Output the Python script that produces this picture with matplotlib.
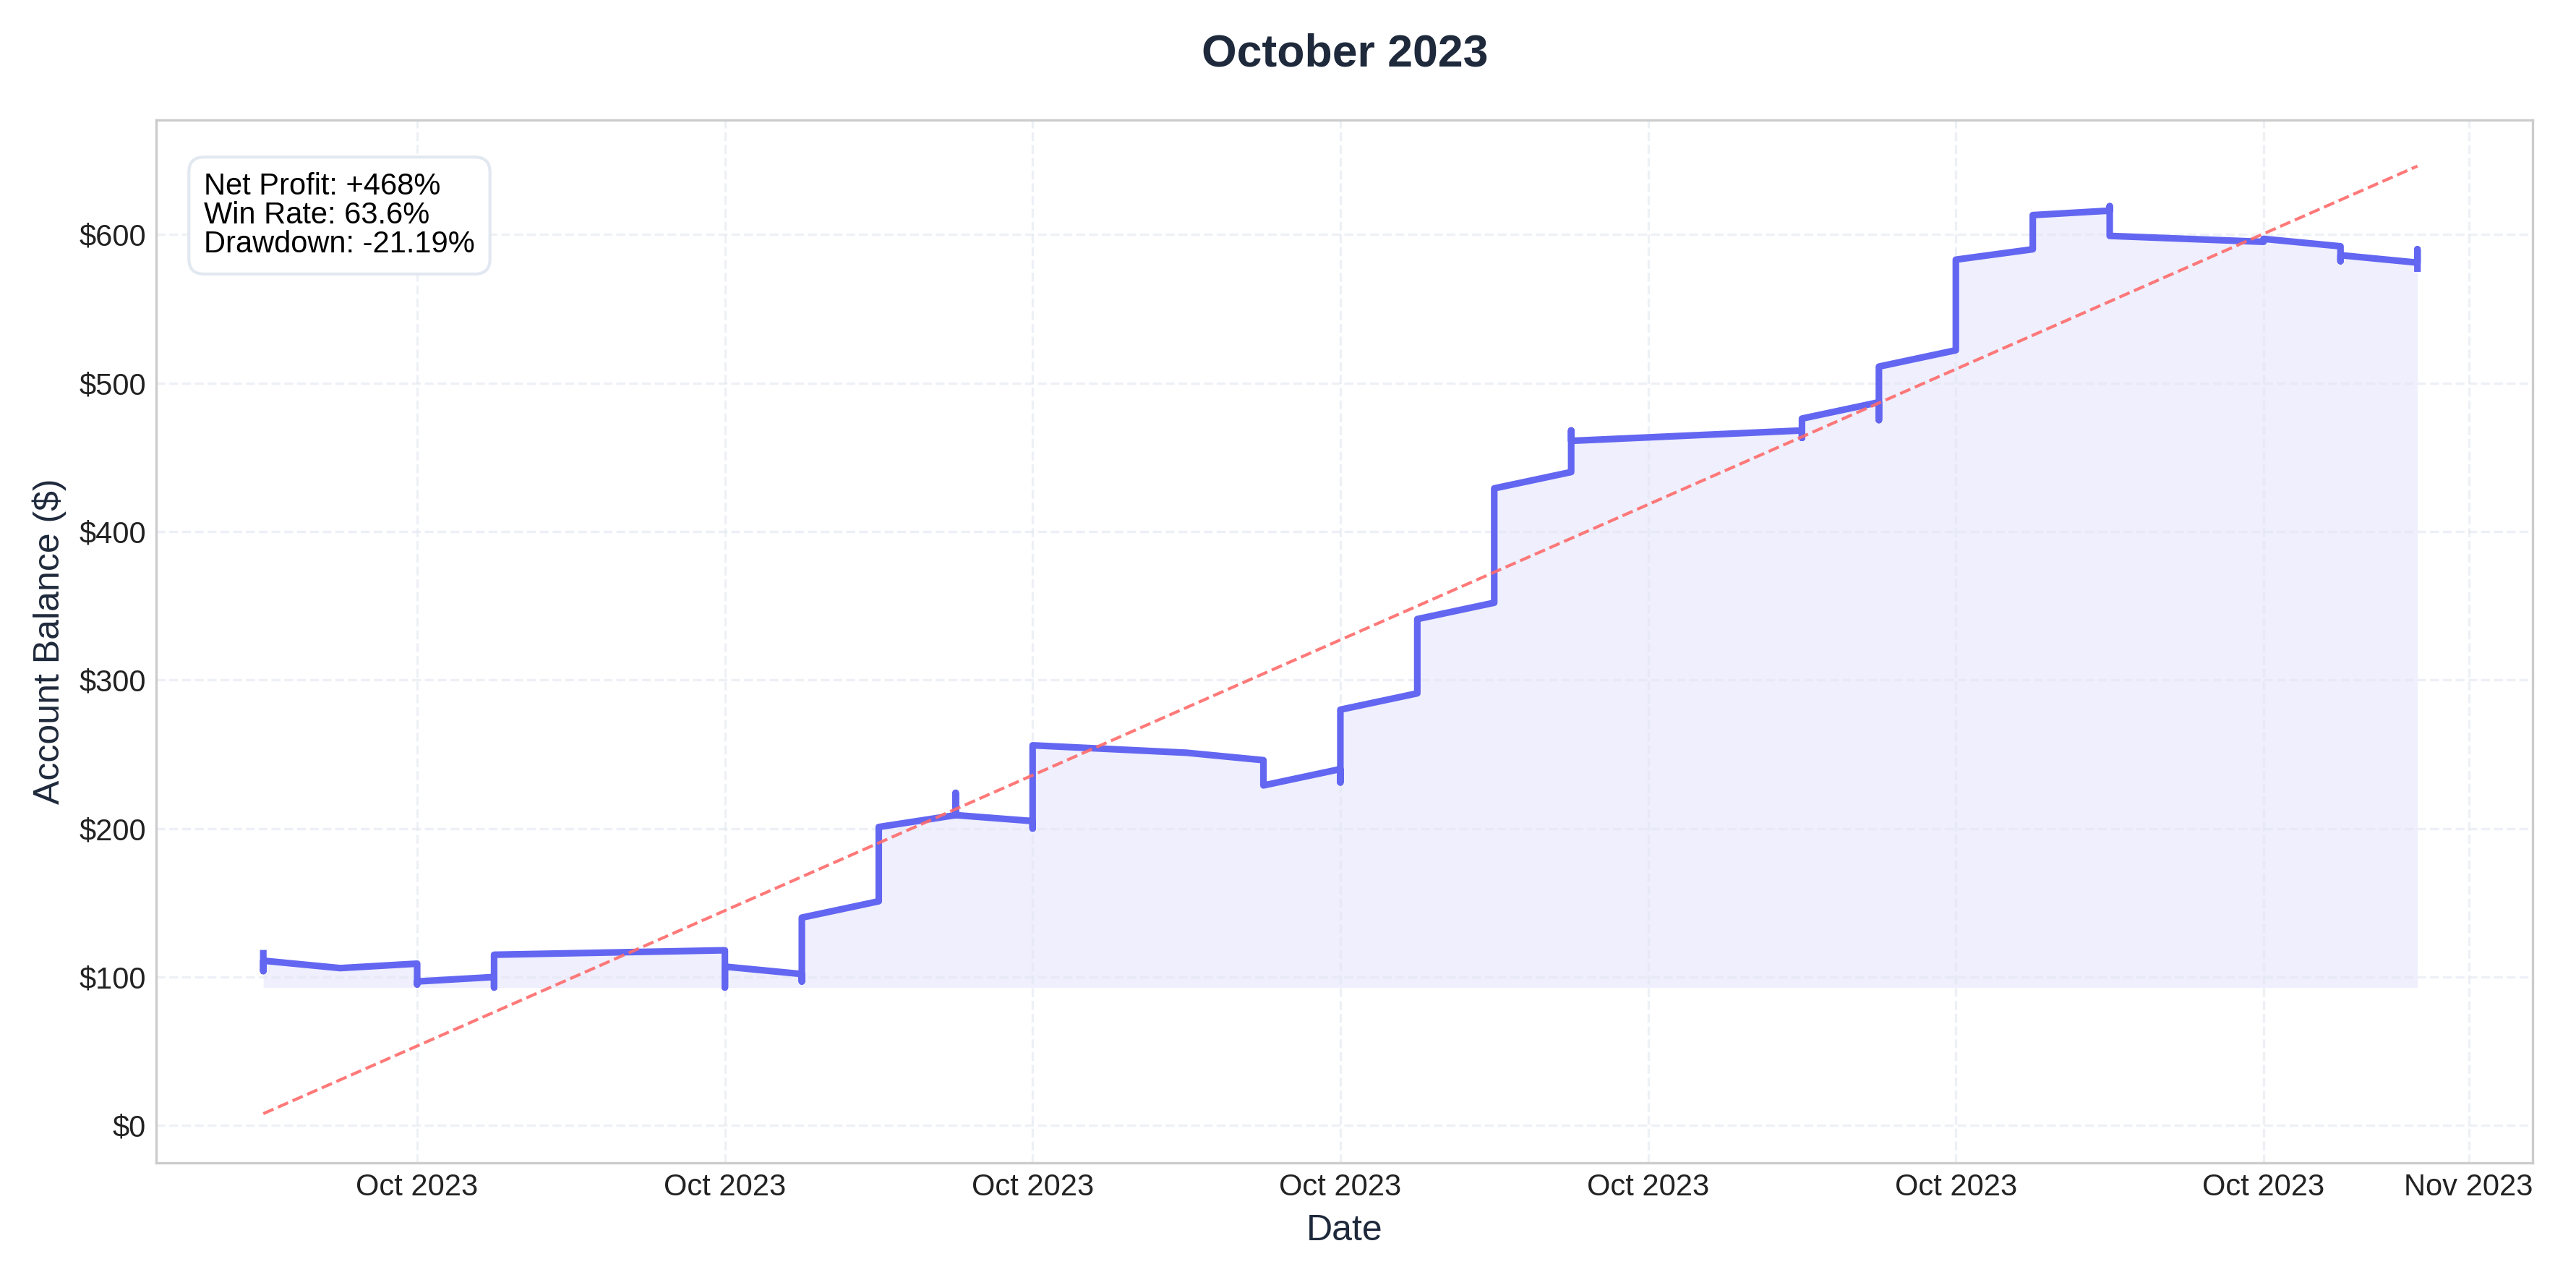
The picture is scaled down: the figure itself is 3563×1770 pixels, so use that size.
import pandas as pd
import matplotlib
matplotlib.use('Agg')
import matplotlib.pyplot as plt
import matplotlib.dates as mdates

# trade slots (18h apart) and balance readings at each slot (arrive, extremes, leave)
slots = [0, 1, 2, 3, 6, 7, 8, 9, 10, 12, 13, 14, 15, 16, 17, 20, 21, 22, 23, 24, 26, 27, 28]
balances = [
    [116, 104, 111], [106], [109, 95, 97], [100, 93, 115], [118, 93, 107],
    [102, 97, 140], [151, 201], [209, 224, 209], [205, 200, 256], [251],
    [246, 229], [240, 231, 280], [291, 341], [352, 429], [440, 468, 461],
    [468, 463, 476], [487, 475, 511], [522, 583], [590, 613], [616, 619, 599],
    [595, 597], [592, 582, 586], [581, 590, 577],
]
trend_start, trend_end = 8, 646
tick_dates = ['2023-10-12', '2023-10-15', '2023-10-18', '2023-10-21',
              '2023-10-24', '2023-10-27', '2023-10-30', '2023-11-01']
stats_text = "Net Profit: +468%\nWin Rate: 63.6%\nDrawdown: -21.19%"

start = pd.Timestamp('2023-10-10 12:00')
xs, ys = [], []
for s, vals in zip(slots, balances):
    t = start + pd.Timedelta(hours=18 * s)
    for v in vals:
        xs.append(t)
        ys.append(v)

plt.rcParams['font.family'] = ['Liberation Sans', 'DejaVu Sans']
fig, ax = plt.subplots(figsize=(3563 / 300, 1770 / 300), dpi=300)

ax.fill_between(xs, ys, min(ys), color='#6366f1', alpha=0.1, linewidth=0)
ax.plot(xs, ys, color='#6366f1', linewidth=2.2, alpha=1)
ax.plot([xs[0], xs[-1]], [trend_start, trend_end], '--', color='#ff6b6b', linewidth=1, alpha=0.9)

ax.set_xlim(pd.Timestamp('2023-10-09 11:00'), pd.Timestamp('2023-11-01 15:00'))
ax.set_ylim(-25, 677)
ax.set_xticks(pd.to_datetime(tick_dates))
ax.xaxis.set_major_formatter(mdates.DateFormatter('%b %Y'))
ax.yaxis.set_major_formatter(matplotlib.ticker.FuncFormatter(lambda v, p: f"${v:.0f}"))
ax.set_yticks(range(0, 700, 100))

ax.grid(True, linestyle='--', color='#e2e8f0', alpha=0.6, linewidth=0.8)
for sp in ax.spines.values():
    sp.set_color('#cccccc')
ax.tick_params(length=0, labelsize=10, colors='#222222')

ax.set_title('October 2023', fontsize=15, fontweight='bold', color='#1e293b', pad=18)
ax.set_xlabel('Date', fontsize=12, color='#1e293b')
ax.set_ylabel('Account Balance ($)', fontsize=12, color='#1e293b')

ax.text(0.02, 0.95, stats_text, transform=ax.transAxes, fontsize=10, va='top',
        linespacing=1.0,
        bbox=dict(boxstyle='round,pad=0.5', facecolor='white', edgecolor='#e2e8f0'))

plt.tight_layout()
plt.savefig('out.png', dpi=300)
